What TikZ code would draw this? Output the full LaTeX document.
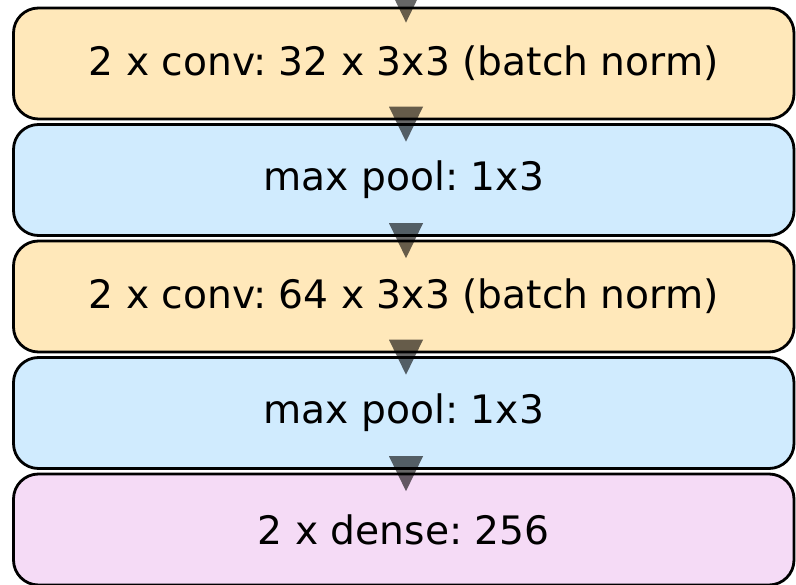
\documentclass[tikz,border=0pt]{standalone}
\usepackage{fontspec}
\setmainfont{DejaVu Sans}
\usetikzlibrary{calc}
\definecolor{convyel}{RGB}{255,232,186}
\definecolor{poolblue}{RGB}{208,235,254}
\definecolor{densepink}{RGB}{245,219,246}
\tikzset{
  layerbox/.style={draw=black, line width=2.8pt, rounded corners=25pt,
    minimum width=780.5pt, minimum height=111pt, inner sep=0pt,
    font=\fontsize{39.2}{46}\selectfont\frenchspacing},
  flowtri/.style={fill=black, fill opacity=0.6},
}
\newcommand{\layertext}[1]{\raisebox{-3pt}{#1}}
\newcommand{\flowhead}[1]{\fill[flowtri] ($#1+(-17,-15)$) -- ($#1+(17,-15)$) -- ($#1+(0,20)$) -- cycle;}
\begin{document}
\begin{tikzpicture}[x=1pt,y=-1pt]
\useasboundingbox (0,0) rectangle (796,585);
\node[layerbox, fill=convyel]   (b1) at (403.75, 63.5)  {\layertext{2 x conv: 32 x 3x3 (batch norm)}};
\node[layerbox, fill=poolblue]  (b2) at (403.75, 180)   {\layertext{max pool: 1x3}};
\node[layerbox, fill=convyel]   (b3) at (403.75, 296.5) {\layertext{2 x conv: 64 x 3x3 (batch norm)}};
\node[layerbox, fill=poolblue]  (b4) at (403.75, 413)   {\layertext{max pool: 1x3}};
\node[layerbox, fill=densepink] (b5) at (403.75, 529.5) {\layertext{2 x dense: 256}};
\coordinate (in) at ($(b1.north)+(2.25,-4)$);
\flowhead{(in)}
\flowhead{($(b1.south)!0.5!(b2.north)+(2.25,0)$)}
\flowhead{($(b2.south)!0.5!(b3.north)+(2.25,0)$)}
\flowhead{($(b3.south)!0.5!(b4.north)+(2.25,0)$)}
\flowhead{($(b4.south)!0.5!(b5.north)+(2.25,0)$)}
\end{tikzpicture}
\end{document}
